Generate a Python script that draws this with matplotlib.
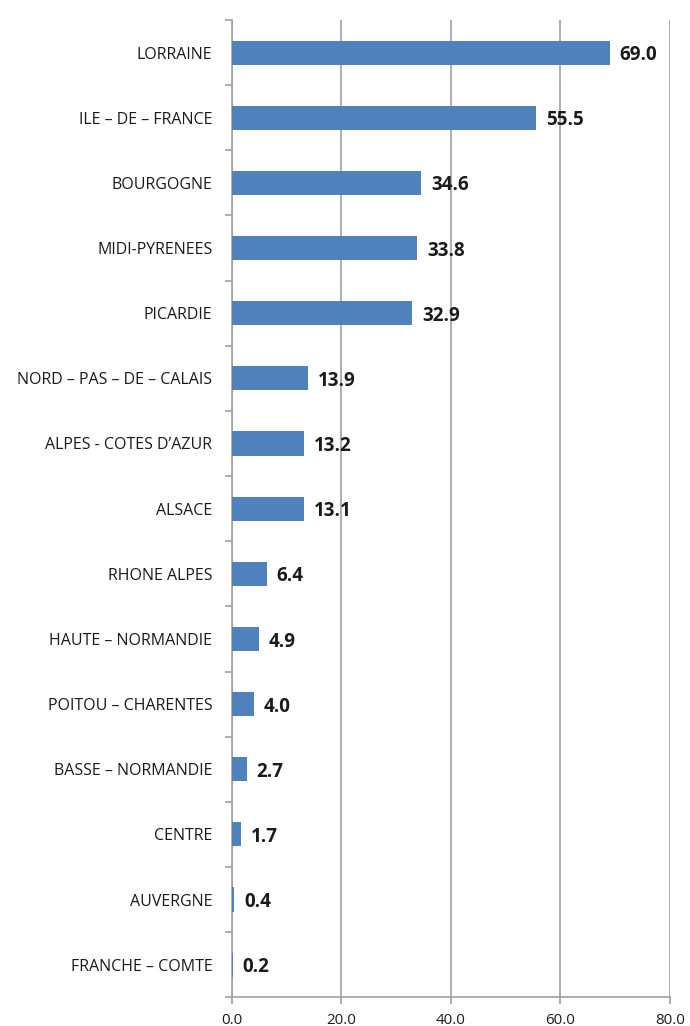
import matplotlib
matplotlib.use("Agg")
import matplotlib.pyplot as plt
from matplotlib.ticker import FixedLocator, FormatStrFormatter
import numpy as np

regions = [
    "LORRAINE",
    "ILE \u2013 DE \u2013 FRANCE",
    "BOURGOGNE",
    "MIDI-PYRENEES",
    "PICARDIE",
    "NORD \u2013 PAS \u2013 DE \u2013 CALAIS",
    "ALPES - COTES D\u2019AZUR",
    "ALSACE",
    "RHONE ALPES",
    "HAUTE \u2013 NORMANDIE",
    "POITOU \u2013 CHARENTES",
    "BASSE \u2013 NORMANDIE",
    "CENTRE",
    "AUVERGNE",
    "FRANCHE \u2013 COMTE",
]
values = [69.0, 55.5, 34.6, 33.8, 32.9, 13.9, 13.2, 13.1, 6.4, 4.9, 4.0, 2.7, 1.7, 0.4, 0.2]
x_ticks = [0, 20, 40, 60, 80]

BAR_COLOR = "#4f81bd"
GRID_COLOR = "#a0a0a0"

plt.rcParams["font.family"] = ["Open Sans", "DejaVu Sans"]

fig = plt.figure(figsize=(6.9, 10.26), dpi=100)
ax = fig.add_axes([0.336, 0.028, 0.635, 0.9525])

n = len(regions)
y = np.arange(n)[::-1]
ax.barh(y, values, height=0.37, color=BAR_COLOR, zorder=3)

for yi, v in zip(y, values):
    ax.text(v + 1.8, yi - 0.04, f"{v:.1f}", ha="left", va="center",
            fontsize=13.5, fontweight="bold", color="#1a1a1a", zorder=4)

ax.set_xlim(0, 80)
ax.set_ylim(-0.5, n - 0.5)
ax.xaxis.set_major_locator(FixedLocator(x_ticks))
ax.xaxis.set_major_formatter(FormatStrFormatter("%.1f"))
ax.grid(axis="x", color=GRID_COLOR, linewidth=1.2, zorder=0)

# category labels in the middle, ticks on the boundaries
ax.set_yticks(y)
ax.set_yticklabels(regions, fontsize=11.5, color="#1a1a1a")
ax.tick_params(axis="y", length=0, pad=14)
ax.set_yticks(np.arange(-0.5, n, 1.0), minor=True)
ax.tick_params(axis="y", which="minor", length=5, color=GRID_COLOR, width=1.2)
ax.tick_params(axis="x", length=5, color=GRID_COLOR, width=1.2,
               labelsize=10.8, labelcolor="#1a1a1a", pad=6)

for side in ["top", "right"]:
    ax.spines[side].set_visible(False)
for side in ["left", "bottom"]:
    ax.spines[side].set_color(GRID_COLOR)
    ax.spines[side].set_linewidth(1.2)

fig.savefig("out.png", dpi=100)
